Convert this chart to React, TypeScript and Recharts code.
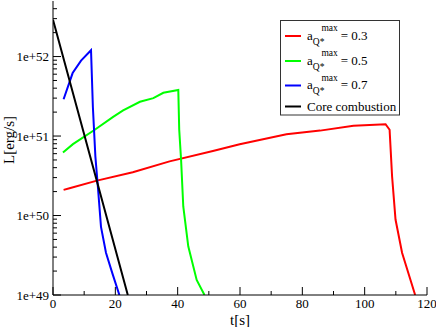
import { LineChart, Line, XAxis, YAxis, Legend } from "recharts";

// luminosity curves, t in seconds, L in erg/s
const redT = [3.4, 5.3, 14.1, 25.6, 37.4, 51.3, 59.9, 74.9, 85.7, 96.4, 106.7, 108.0, 108.8, 109.9, 112.0, 116.2];
const redL = [2.1e50, 2.2e50, 2.75e50, 3.5e50, 4.8e50, 6.5e50, 7.9e50, 1.05e51, 1.17e51, 1.35e51, 1.41e51, 1.2e51, 3.1e50, 8.9e49, 3.4e49, 1e49];

const greenT = [3.2, 6.4, 13.4, 19.3, 22.5, 27.9, 32.2, 35.4, 40.2, 40.5, 41.1, 41.8, 43.4, 46.1, 48.6];
const greenL = [6.2e50, 7.9e50, 1.2e51, 1.74e51, 2.1e51, 2.7e51, 3.0e51, 3.5e51, 3.8e51, 1.2e51, 5.0e50, 1.3e50, 4.1e49, 1.55e49, 1e49];

const blueT = [3.4, 6.3, 9.0, 12.2, 12.8, 13.6, 14.4, 15.4, 17.0, 19.0, 21.3];
const blueL = [2.9e51, 6.2e51, 8.9e51, 1.2e52, 2.3e51, 5.5e50, 2.3e50, 7.2e49, 3.4e49, 1.9e49, 1e49];

const coreT = [0, 12, 24];
const coreL = [2.9e52, 5.4e50, 1e49];

const xMajor = [0, 20, 40, 60, 80, 100, 120];
const xMinor = [10, 30, 50, 70, 90, 110];
const yMajor = [1e49, 1e50, 1e51, 1e52];
const minorMult = [2, 3, 4, 5, 6, 7, 8, 9];

const legendLabels = ["0.3", "0.5", "0.7"];

const pts = (t: number[], L: number[]) => t.map((v, i) => ({ t: v, L: L[i] }));

const yMinor = yMajor.flatMap((d) => minorMult.map((m) => m * d)).filter((v) => v < 5e52);
const xTicks = [...xMajor, ...xMinor].sort((a, b) => a - b);
const yTicks = [...yMajor, ...yMinor].sort((a, b) => a - b);

const FONT = '"Liberation Serif", "Times New Roman", Times, serif';
const txt = { fontFamily: FONT };

const BottomTick = (props: any) => {
  const { x, y, payload } = props;
  const major = xMajor.includes(payload.value);
  return (
    <g>
      <line x1={x} x2={x} y1={y} y2={y - (major ? 8 : 4)} stroke="#000" />
      {major && (
        <text x={x} y={y + 13} textAnchor="middle" fontSize={13} style={txt} fill="#000">
          {payload.value}
        </text>
      )}
    </g>
  );
};

const TopTick = (props: any) => {
  const { x, y, payload } = props;
  const major = xMajor.includes(payload.value);
  return <line x1={x} x2={x} y1={y} y2={y + (major ? 8 : 4)} stroke="#000" />;
};

const LeftTick = (props: any) => {
  const { x, y, payload } = props;
  const major = yMajor.includes(payload.value);
  return (
    <g>
      <line x1={x} x2={x + (major ? 8 : 4)} y1={y} y2={y} stroke="#000" />
      {major && (
        <text x={x - 4} y={y + 4.5} textAnchor="end" fontSize={13} style={txt} fill="#000">
          {Number(payload.value).toExponential()}
        </text>
      )}
    </g>
  );
};

const RightTick = (props: any) => {
  const { x, y, payload } = props;
  const major = yMajor.includes(payload.value);
  return <line x1={x} x2={x - (major ? 8 : 4)} y1={y} y2={y} stroke="#000" />;
};

const legendColors = ["#ff0000", "#00ff00", "#0000ff"];
const rowY = [16, 41, 65.5, 86.5];

const renderLegend = () => (
  <svg width={121} height={96} style={{ display: "block" }}>
    <rect x={0.5} y={0.5} width={119} height={94.5} fill="#fff" stroke="#333" />
    {legendLabels.map((lab, i) => (
      <g key={lab}>
        <line x1={5} x2={21} y1={rowY[i]} y2={rowY[i]} stroke={legendColors[i]} strokeWidth={2} />
        <text x={27} y={rowY[i] + 3.5} fontSize={13} style={txt} fill="#000">
          a
          <tspan fontSize={9.5} dy={5}>Q*</tspan>
          <tspan fontSize={9.5} dx={-3} dy={-13.5}>max</tspan>
          <tspan fontSize={13} dx={3} dy={8.5}>= {lab}</tspan>
        </text>
      </g>
    ))}
    <line x1={5} x2={21} y1={rowY[3]} y2={rowY[3]} stroke="#000" strokeWidth={2} />
    <text x={27} y={rowY[3] + 4.5} fontSize={13} style={txt} fill="#000">
      Core combustion
    </text>
  </svg>
);

export default function App() {
  return (
    <div style={{ position: "absolute", left: 0, top: 0, fontFamily: FONT }}>
      <LineChart width={436} height={327} margin={{ top: 1, right: 9, bottom: 0, left: 0 }}>
        <XAxis
          xAxisId="b"
          dataKey="t"
          type="number"
          domain={[0, 120]}
          ticks={xTicks}
          interval={0}
          height={32}
          tickSize={0}
          tickMargin={0}
          tickLine={false}
          tick={BottomTick}
          axisLine={{ stroke: "#000" }}
          allowDataOverflow
          label={{
            content: () => (
              <text x={240} y={324.5} textAnchor="middle" fontSize={15} style={txt} fill="#000">
                t[s]
              </text>
            ),
          }}
        />
        <XAxis
          xAxisId="top"
          orientation="top"
          dataKey="t"
          type="number"
          domain={[0, 120]}
          ticks={xTicks}
          interval={0}
          height={0}
          tickSize={0}
          tickMargin={0}
          tickLine={false}
          tick={TopTick}
          axisLine={{ stroke: "#000" }}
          allowDataOverflow
        />
        <YAxis
          yAxisId="l"
          dataKey="L"
          type="number"
          scale="log"
          domain={[1e49, 5e52]}
          ticks={yTicks}
          interval={0}
          width={53}
          tickSize={0}
          tickMargin={0}
          tickLine={false}
          tick={LeftTick}
          axisLine={{ stroke: "#000" }}
          allowDataOverflow
          label={{
            content: () => (
              <text x={14} y={140} transform="rotate(-90 14 140)" textAnchor="middle" fontSize={15} style={txt} fill="#000">
                L[erg/s]
              </text>
            ),
          }}
        />
        <YAxis
          yAxisId="r"
          orientation="right"
          dataKey="L"
          type="number"
          scale="log"
          domain={[1e49, 5e52]}
          ticks={yTicks}
          interval={0}
          width={0}
          tickSize={0}
          tickMargin={0}
          tickLine={false}
          tick={RightTick}
          axisLine={{ stroke: "#000" }}
          allowDataOverflow
        />
        <Legend
          content={renderLegend}
          layout="horizontal"
          verticalAlign="middle"
          align="center"
          wrapperStyle={{ top: 20, left: 280, width: 121, height: 96 }}
        />
        <Line xAxisId="b" yAxisId="l" data={pts(redT, redL)} dataKey="L" stroke="#ff0000" strokeWidth={2} dot={false} isAnimationActive={false} />
        <Line xAxisId="b" yAxisId="l" data={pts(greenT, greenL)} dataKey="L" stroke="#00ff00" strokeWidth={2} dot={false} isAnimationActive={false} />
        <Line xAxisId="b" yAxisId="l" data={pts(blueT, blueL)} dataKey="L" stroke="#0000ff" strokeWidth={2} dot={false} isAnimationActive={false} />
        <Line xAxisId="b" yAxisId="l" data={pts(coreT, coreL)} dataKey="L" stroke="#000000" strokeWidth={2} dot={false} isAnimationActive={false} />
      </LineChart>
    </div>
  );
}
